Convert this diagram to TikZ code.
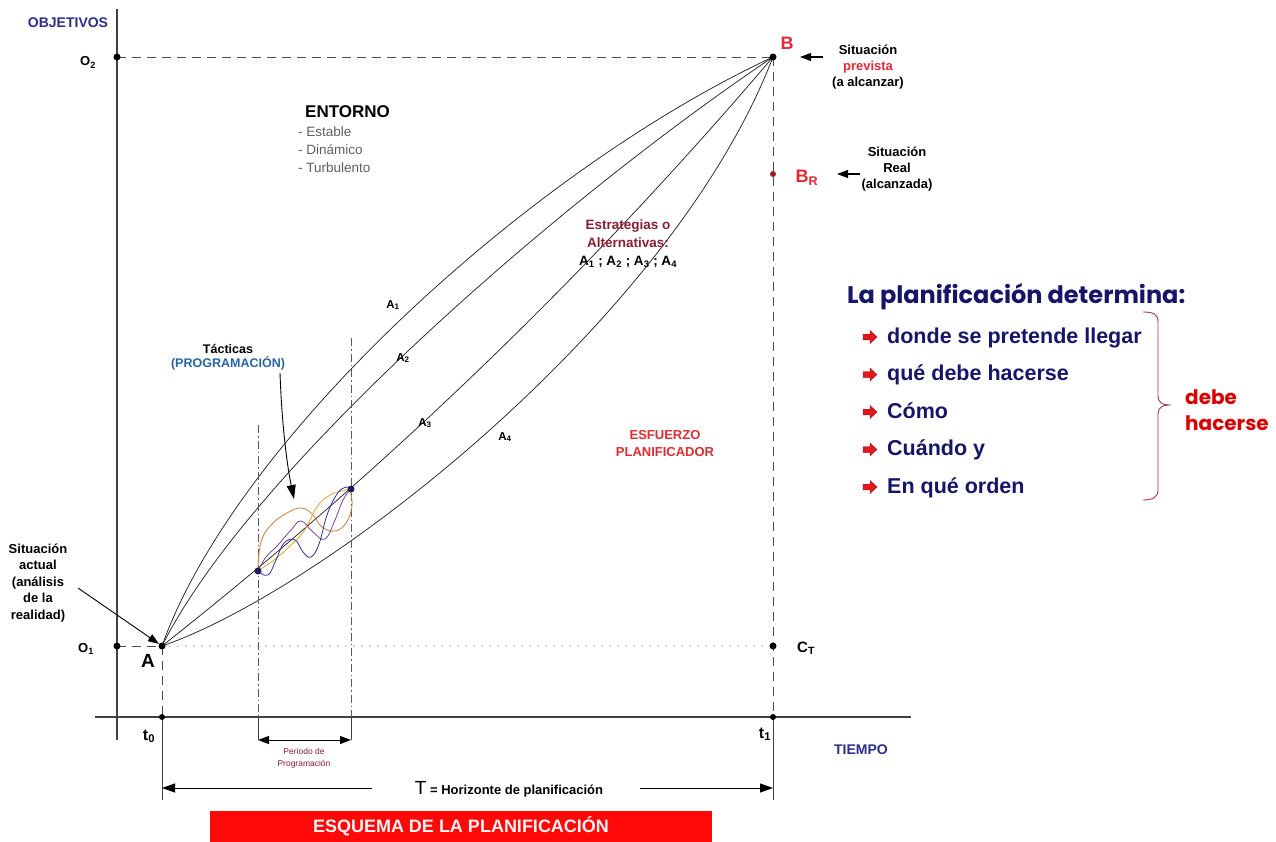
\documentclass[tikz,border=0pt]{standalone}
\usepackage{fontspec}
\setmainfont{Liberation Sans}
\newfontfamily\comicfont{Poppins}
\usetikzlibrary{arrows.meta}

\definecolor{navy}{RGB}{44,46,140}
\definecolor{listblue}{RGB}{22,22,105}
\definecolor{ptred}{RGB}{228,40,55}
\definecolor{darkred}{RGB}{135,30,50}
\definecolor{effred}{RGB}{220,45,50}
\definecolor{progblue}{RGB}{40,100,160}
\definecolor{gtext}{RGB}{95,95,95}
\definecolor{bracered}{RGB}{160,60,70}
\definecolor{waveorange}{RGB}{205,125,60}
\definecolor{wavepurple}{RGB}{120,70,150}
\definecolor{waveblue}{RGB}{50,50,150}
\definecolor{boxred}{RGB}{255,8,8}
\definecolor{brdot}{RGB}{150,30,40}
\definecolor{bulred}{RGB}{225,25,30}

\pgfdeclarelayer{bg}
\pgfsetlayers{bg,main}

\begin{document}
\begin{tikzpicture}[x=1pt,y=-1pt,
  pt/.style={circle,fill=black,inner sep=0pt,minimum size=7pt},
  axis/.style={line width=1.1pt,black!75},
  guide/.style={dash pattern=on 9pt off 6pt,line width=0.9pt,black!70},
  dashdot/.style={dash pattern=on 8pt off 3pt on 1.5pt off 3pt,line width=0.9pt,black!65},
  dots/.style={dash pattern=on 0pt off 8pt,line cap=round,line width=1.5pt,black!45},
  route/.style={line width=0.75pt,black!85},
  wave/.style={line width=0.8pt},
  pointer/.style={-{Triangle[length=11pt,width=8pt]},line width=1.1pt},
  txt/.style={inner sep=0pt,font=\bfseries\fontsize{13}{16}\selectfont},
  alab/.style={inner sep=0pt,font=\bfseries\fontsize{11.5}{13}\selectfont},
  big/.style={inner sep=0pt,font=\bfseries\fontsize{18}{20}\selectfont},
  item/.style={anchor=base west,inner sep=0pt,text=listblue,font=\bfseries\fontsize{21.5}{24}\selectfont},
  dimtip/.style={{Triangle[length=11pt,width=8pt]}-{Triangle[length=11pt,width=8pt]},line width=0.9pt}
]
\useasboundingbox (0,0) rectangle (1276,842);

% ---- reference points ----
\node[pt] (O2) at (117,57) {};
\node[pt] (O1) at (117,646) {};
\node[pt] (A) at (162,646) {};
\node[pt] (B) at (773,57) {};
\node[pt,fill=brdot,minimum size=6pt] (BR) at (773,174) {};
\node[pt] (CT) at (773,646) {};
\node[pt,minimum size=6pt] (t0) at (162,717) {};
\node[pt,minimum size=6pt] (t1) at (773,717) {};
\node[pt,fill=waveblue!60!black,minimum size=7pt] (tacS) at (258,571) {};
\node[pt,fill=waveblue!60!black,minimum size=7pt] (tacE) at (351,489) {};

\coordinate (yTop) at (117,9);
\coordinate (yBot) at (117,740);
\coordinate (xL) at (95,717);
\coordinate (xR) at (911,717);
\coordinate (t0end) at (162,800);
\coordinate (t1end) at (773,800);
\coordinate (p1top) at (258,425);
\coordinate (p1ax) at (258,717);
\coordinate (p1bot) at (258,740);
\coordinate (p2top) at (351,338);
\coordinate (p2ax) at (351,717);
\coordinate (p2bot) at (351,740);
\coordinate (hL) at (162,788);
\coordinate (hR) at (773,788);
\coordinate (hGapL) at (372,788);
\coordinate (hGapR) at (640,788);

\begin{pgfonlayer}{bg}
  \fill[white] (0,0) rectangle (1276,842);
  % axes
  \draw[axis] (yBot) -- (yTop);
  \draw[axis] (xL) -- (xR);
  % guide lines
  \draw[guide] (O2.center) -- (B.center);
  \draw[guide] (B.center) -- (t1.center);
  \draw[guide] (O1.center) -- (A.center);
  \draw[guide] (A.center) -- (t0.center);
  \draw[dots] (A.center) -- (CT.center);
  \draw[axis,line width=0.9pt] (t0.center) -- (t0end);
  \draw[axis,line width=0.9pt] (t1.center) -- (t1end);
  % strategies A1..A4
  \draw[route] (A.center) .. controls (235,440) and (530,170) .. (B.center);
  \draw[route] (A.center) .. controls (250,470) and (560,200) .. (B.center);
  \draw[route] (A.center) .. controls (385,470) and (589,273.5) .. (B.center);
  \draw[route] (A.center) .. controls (325,590) and (672,320) .. (B.center);
  % programming period
  \draw[dashdot] (p1top) -- (p1ax);
  \draw[dashdot] (p2top) -- (p2ax);
  \draw[line width=0.9pt,black!75] (p1ax) -- (p1bot);
  \draw[line width=0.9pt,black!75] (p2ax) -- (p2bot);
  \draw[dimtip] (p1bot) -- (p2bot);
  % tactics
  \draw[wave,waveorange] plot[smooth,tension=0.7] coordinates
    {(258,568) (261,542) (271,525) (287,513) (301,508) (312,514) (322,527) (335,531) (346,523) (352,506) (350,490)};
  \draw[wave,waveorange!70!yellow] plot[smooth,tension=0.7] coordinates
    {(258,571) (274,560) (290,546) (304,531) (317,507) (330,495) (342,491) (351,489)};
  \draw[wave,wavepurple] plot[smooth,tension=0.7] coordinates
    {(258,571) (266,557) (277,546) (291,530) (301,521) (313,532) (325,539) (335,520) (343,500) (351,489)};
  \draw[wave,waveblue] plot[smooth,tension=0.7] coordinates
    {(258,571) (268,575) (276,560) (284,543) (295,540) (303,552) (311,557) (319,544) (327,515) (337,494) (346,487) (351,489)};
\end{pgfonlayer}

% ---- axis labels ----
\node[txt,text=navy,font=\bfseries\fontsize{14}{16}\selectfont] (objetivos) at (68,23) {OBJETIVOS};
\node[txt,text=navy,font=\bfseries\fontsize{14}{16}\selectfont] (tiempo) at (861,750) {TIEMPO};
\node[txt,anchor=base] (O2lbl) at (88,66) {O\textsubscript{2}};
\node[txt,anchor=base] (O1lbl) at (86,652) {O\textsubscript{1}};
\node[big,anchor=base,font=\bfseries\fontsize{19}{20}\selectfont] (Albl) at (148,667) {A};
\node[txt,anchor=base,font=\bfseries\fontsize{16}{18}\selectfont] (t0lbl) at (149,740) {t\textsubscript{0}};
\node[txt,anchor=base,font=\bfseries\fontsize{16}{18}\selectfont] (t1lbl) at (765,738) {t\textsubscript{1}};
\node[txt,anchor=base west,font=\bfseries\fontsize{15}{18}\selectfont] (CTlbl) at (797,652) {C\textsubscript{T}};
\node[big,text=ptred] (Blbl) at (787,43) {B};
\node[big,text=ptred,anchor=base] (BRlbl) at (807,183) {B\textsubscript{R}};

% ---- situation notes ----
\node[txt,align=center] (prev) at (868,67) {Situación\\\textcolor{ptred}{prevista}\\(a alcanzar)};
\node[txt,align=center] (real) at (897,169) {Situación\\Real\\(alcanzada)};
\coordinate (prevTail) at (823,57);
\coordinate (prevTip) at (800,57);
\coordinate (realTail) at (860,174);
\coordinate (realTip) at (837,174);
\draw[pointer] (prevTail) -- (prevTip);
\draw[pointer] (realTail) -- (realTip);

\node[txt,align=center,font=\bfseries\fontsize{13}{16.5}\selectfont] (actual) at (38,583)
  {Situación\\actual\\(análisis\\de la\\realidad)};
\coordinate (actTail) at (78,588);
\draw[pointer,line width=0.9pt] (actTail) -- (A);

% ---- environment ----
\node[txt,anchor=base west,font=\bfseries\fontsize{17}{20}\selectfont] (entorno) at (305,118) {ENTORNO};
\node[inner sep=0pt,anchor=base west,text=gtext,font=\fontsize{13.5}{16}\selectfont] (est) at (298,137) {- Estable};
\node[inner sep=0pt,anchor=base west,text=gtext,font=\fontsize{13.5}{16}\selectfont] (din) at (298,155) {- Dinámico};
\node[inner sep=0pt,anchor=base west,text=gtext,font=\fontsize{13.5}{16}\selectfont] (tur) at (298,173) {- Turbulento};

% ---- strategies ----
\node[txt,align=center,font=\bfseries\fontsize{13.5}{18}\selectfont] (estr) at (628,244)
  {\textcolor{darkred}{Estrategias o}\\\textcolor{darkred}{Alternativas:}\\A\textsubscript{1} ; A\textsubscript{2} ; A\textsubscript{3} ; A\textsubscript{4}};
\node[alab] (a1) at (393,305) {A\textsubscript{1}};
\node[alab] (a2) at (403,358) {A\textsubscript{2}};
\node[alab] (a3) at (425,423) {A\textsubscript{3}};
\node[alab] (a4) at (505,437) {A\textsubscript{4}};
\node[txt,align=center,text=effred,font=\bfseries\fontsize{13}{17}\selectfont] (esf) at (665,444) {ESFUERZO\\PLANIFICADOR};

% ---- tactics ----
\node[txt,align=center,font=\bfseries\fontsize{12.5}{14}\selectfont] (tact) at (228,357)
  {Tácticas\\\textcolor{progblue}{(PROGRAMACIÓN)}};
\coordinate (tactTail) at (280,373);
\coordinate (tactTip) at (294,499);
\draw[-{Triangle[length=14pt,width=9pt]},line width=0.9pt] (tactTail) .. controls (282,430) and (288,470) .. (tactTip);

% ---- time spans ----
\node[inner sep=0pt,align=center,text=darkred,font=\fontsize{8.5}{12}\selectfont] (periodo) at (304,758) {Periodo de\\Programación};
\node[inner sep=0pt,font=\bfseries\fontsize{13}{16}\selectfont] (horiz) at (509,789)
  {{\mdseries\fontsize{19}{20}\selectfont T} = Horizonte de planificación};
\draw[{Triangle[length=13pt,width=9pt]}-,line width=0.9pt] (hL) -- (hGapL);
\draw[-{Triangle[length=13pt,width=9pt]},line width=0.9pt] (hGapR) -- (hR);

\node[fill=boxred,minimum width=502pt,minimum height=31pt,inner sep=0pt,
      text=white!95!red,font=\bfseries\fontsize{18}{20}\selectfont] (title) at (461,826.5)
  {ESQUEMA DE LA PLANIFICACIÓN};

% ---- planning summary ----
\node[anchor=base west,inner sep=0pt,text=listblue,font=\comicfont\bfseries\fontsize{24}{28}\selectfont] (head) at (847,303)
  {La planificación determina:};
\foreach \yy [count=\k] in {337,374.5,412,449.5,487}{
  \filldraw[fill=bulred,draw=bulred!70!black,line width=0.4pt,shift={(870,\yy)}]
    (-7,-2.8) -- (0,-2.8) -- (0,-6.5) -- (7,0) -- (0,6.5) -- (0,2.8) -- (-7,2.8) -- cycle;
}
\node[item] (i1) at (887,343) {donde se pretende llegar};
\node[item] (i2) at (887,380.5) {qué debe hacerse};
\node[item] (i3) at (887,418) {Cómo};
\node[item] (i4) at (887,455.5) {Cuándo y};
\node[item] (i5) at (887,493) {En qué orden};
\draw[bracered,line width=0.9pt]
  (1143,312) .. controls (1153,312) and (1158,314) .. (1158,322) -- (1158,396)
  .. controls (1158,402) and (1162,405) .. (1169,405)
  .. controls (1162,405) and (1158,408) .. (1158,414) -- (1158,490)
  .. controls (1158,497) and (1153,500) .. (1143,500);
\node[anchor=west,inner sep=0pt,align=left,text=red!85!black,font=\comicfont\bfseries\fontsize{20}{26}\selectfont] (debe) at (1185,410)
  {debe\\hacerse};
\end{tikzpicture}
\end{document}
